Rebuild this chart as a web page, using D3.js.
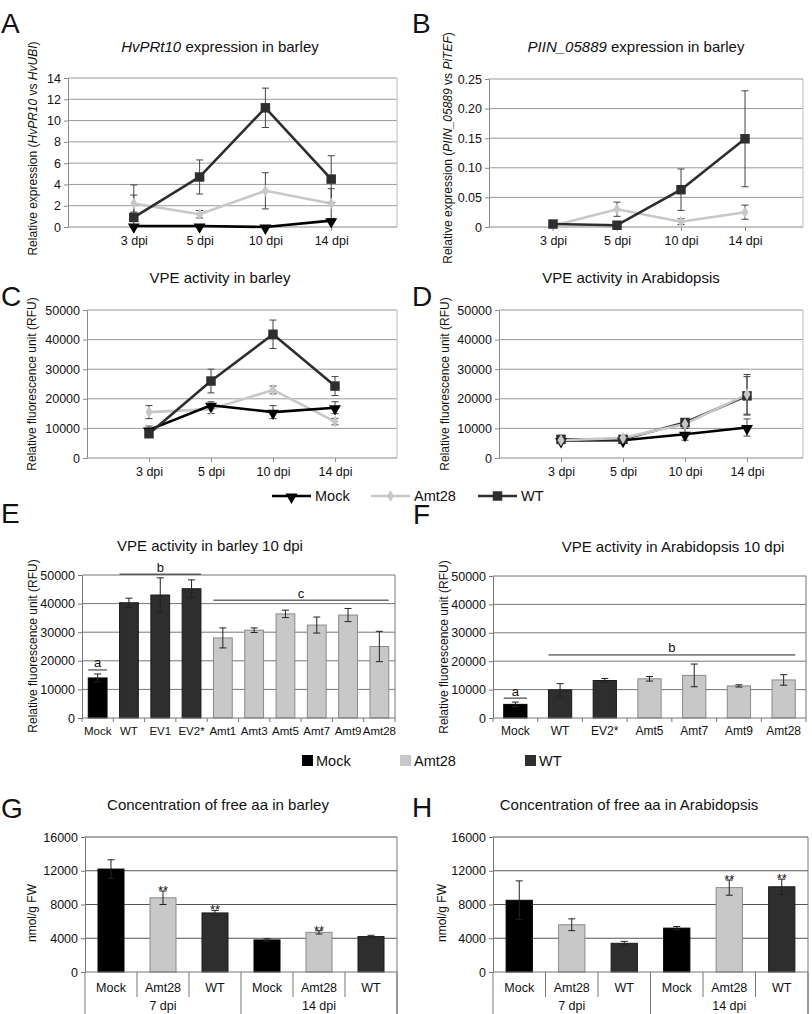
<!DOCTYPE html>
<html><head><meta charset="utf-8">
<script src="https://cdn.jsdelivr.net/npm/d3@7"></script>
<style>body{margin:0;background:#fff} svg{display:block;font-family:"Liberation Sans",Arial,sans-serif}</style>
</head><body><svg id="fig" width="812" height="1014"></svg>
<script>
// ---------- DATA ----------
const dpiLabels = ["3 dpi", "5 dpi", "10 dpi", "14 dpi"];
const seriesNames = ["Mock", "Amt28", "WT"];

// Panel A: HvPRt10 expression
const aTicks = [0, 2, 4, 6, 8, 10, 12, 14];
const aMock = [0.1, 0.1, 0.0, 0.6], aMockErr = [0.1, 0.1, 0.05, 0.15];
const aAmt28 = [2.2, 1.2, 3.4, 2.2], aAmt28Err = [0.8, 0.35, 1.7, 1.4];
const aWT = [0.9, 4.7, 11.2, 4.5], aWTErr = [3.05, 1.6, 1.85, 2.2];

// Panel B: PIIN_05889 expression
const bTicks = [0, 0.05, 0.10, 0.15, 0.20, 0.25];
const bAmt28 = [0.002, 0.030, 0.009, 0.025], bAmt28Err = [0.001, 0.012, 0.005, 0.012];
const bWT = [0.005, 0.003, 0.063, 0.149], bWTErr = [0.002, 0.002, 0.035, 0.081];

// Panel C: VPE activity barley
const rfuTicks = [0, 10000, 20000, 30000, 40000, 50000];
const cMock = [9500, 17800, 15500, 17000], cMockErr = [1300, 1200, 2200, 2000];
const cAmt28 = [15500, 16500, 23000, 12300], cAmt28Err = [2200, 1500, 1300, 1100];
const cWT = [8200, 26000, 41800, 24300], cWTErr = [1200, 4000, 4800, 3200];

// Panel D: VPE activity Arabidopsis
const dMock = [5900, 6000, 8000, 10300], dMockErr = [500, 500, 2000, 2900];
const dAmt28 = [6000, 6800, 11500, 21500], dAmt28Err = [400, 500, 1000, 6700];
const dWT = [6300, 6300, 12000, 21000], dWTErr = [500, 400, 1200, 6500];

// Panel E: VPE activity barley 10 dpi
const eCats = ["Mock", "WT", "EV1", "EV2*", "Amt1", "Amt3", "Amt5", "Amt7", "Amt9", "Amt28"];
const eGroup = [0, 2, 2, 2, 1, 1, 1, 1, 1, 1];
const eVals = [14000, 40300, 43000, 45200, 28000, 30700, 36400, 32500, 36000, 25000];
const eErrs = [1400, 1600, 6000, 3100, 3500, 800, 1300, 2800, 2300, 5300];
const eSig = [{t: "a", i0: 0, i1: 0, v: 16800}, {t: "b", i0: 1, i1: 3, v: 50300}, {t: "c", i0: 4, i1: 9, v: 41200}];

// Panel F: VPE activity Arabidopsis 10 dpi
const fCats = ["Mock", "WT", "EV2*", "Amt5", "Amt7", "Amt9", "Amt28"];
const fGroup = [0, 2, 2, 1, 1, 1, 1];
const fVals = [4800, 9900, 13200, 13800, 15000, 11300, 13400];
const fErrs = [800, 2200, 700, 800, 4000, 400, 1850];
const fSig = [{t: "a", i0: 0, i1: 0, v: 7000}, {t: "b", i0: 1, i1: 6, v: 22200}];

// Panels G/H: free amino acids
const aaTicks = [0, 4000, 8000, 12000, 16000];
const aaCats = ["Mock", "Amt28", "WT", "Mock", "Amt28", "WT"];
const aaGroupLabels = ["7 dpi", "14 dpi"];
const aaGroup = [0, 1, 2, 0, 1, 2];
const gVals = [12200, 8800, 7000, 3800, 4700, 4200];
const gErrs = [1100, 800, 300, 150, 200, 150];
const gStars = [false, true, true, false, true, false];
const hVals = [8500, 5600, 3400, 5200, 10000, 10100];
const hErrs = [2300, 700, 230, 200, 900, 900];
const hStars = [false, false, false, false, true, true];

// ---------- STYLE ----------
const colMock = "#000000", colAmt = "#c8c8c8", colWT = "#2e2e2e";
const barFill = [colMock, colAmt, colWT];
const barStroke = ["#000", "#8a8a8a", "#1a1a1a"];
const txt = "#111";
const svg = d3.select("#fig");

function letter(s, x, y) {
  svg.append("text").attr("x", x).attr("y", y).attr("font-size", 28).attr("fill", txt).text(s);
}
function richText(parts, x, y, size, anchor, rotate) {
  const t = svg.append("text").attr("font-size", size).attr("fill", txt).attr("text-anchor", anchor || "middle");
  if (rotate) t.attr("transform", `translate(${x},${y}) rotate(-90)`);
  else t.attr("x", x).attr("y", y);
  parts.forEach(p => t.append("tspan").attr("font-style", p[1] ? "italic" : "normal").text(p[0]));
  return t;
}
function styleAxis(g, color, fs) {
  g.selectAll("path.domain").attr("stroke", color);
  g.selectAll(".tick line").attr("stroke", color);
  g.selectAll(".tick text").attr("fill", txt).attr("font-size", fs)
    .attr("font-family", '"Liberation Sans",Arial,sans-serif');
}

function linePanel(cfg) {
  const g = svg.append("g");
  const x = d3.scaleLinear().domain([0, 5]).range([cfg.x0, cfg.xEnd]);
  const y = d3.scaleLinear().domain([0, cfg.yMax]).range([cfg.yBot, cfg.yTop]);
  cfg.ticks.slice(1).forEach(t => g.append("line").attr("x1", cfg.x0).attr("x2", cfg.x1)
    .attr("y1", y(t)).attr("y2", y(t)).attr("stroke", "#9a9a9a").attr("stroke-width", 1));
  g.append("line").attr("x1", cfg.x1).attr("x2", cfg.x1).attr("y1", cfg.yTop).attr("y2", cfg.yBot)
    .attr("stroke", "#bdbdbd");
  const ya = g.append("g").attr("transform", `translate(${cfg.x0},0)`)
    .call(d3.axisLeft(y).tickValues(cfg.ticks).tickFormat(cfg.fmt).tickSize(4).tickSizeOuter(0).tickPadding(3));
  styleAxis(ya, "#8a8a8a", 12.5);
  const xa = g.append("g").attr("transform", `translate(0,${cfg.yBot})`)
    .call(d3.axisBottom(x).tickValues([1, 2, 3, 4]).tickFormat(d => dpiLabels[d - 1]).tickSize(4).tickPadding(5));
  xa.select("path.domain").remove();
  styleAxis(xa, "#8a8a8a", 12.5);
  g.append("line").attr("x1", cfg.x0).attr("x2", cfg.x1).attr("y1", cfg.yBot).attr("y2", cfg.yBot).attr("stroke", "#8a8a8a");

  const line = d3.line().x((d, i) => x(i + 1)).y(d => y(d));
  cfg.series.forEach(s => {
    g.append("path").attr("d", line(s.vals)).attr("fill", "none").attr("stroke", s.color)
      .attr("stroke-width", 2.6).attr("stroke-linejoin", "round");
  });
  cfg.series.forEach(s => {
    s.vals.forEach((v, i) => {
      const cx = x(i + 1), hi = y(v + s.errs[i]), lo = y(Math.max(0, v - s.errs[i]));
      g.append("line").attr("x1", cx).attr("x2", cx).attr("y1", hi).attr("y2", lo).attr("stroke", "#444");
      [hi, lo].forEach(yy => g.append("line").attr("x1", cx - 3.5).attr("x2", cx + 3.5)
        .attr("y1", yy).attr("y2", yy).attr("stroke", "#444"));
    });
  });
  cfg.series.forEach(s => {
    s.vals.forEach((v, i) => drawMarker(g, s.marker, x(i + 1), y(v), s.color));
  });
  richText(cfg.title, cfg.titleX, cfg.titleY, 15);
  richText(cfg.ylab, cfg.ylabX, (cfg.yTop + cfg.yBot) / 2 + (cfg.ylabDy || 0), 12, "middle", true);
}

function drawMarker(g, m, cx, cy, color) {
  if (m === "tri") {
    g.append("path").attr("d", d3.symbol(d3.symbolTriangle, 62)()).attr("fill", color)
      .attr("transform", `translate(${cx},${cy + 1}) rotate(180)`);
  } else if (m === "sq") {
    g.append("path").attr("d", d3.symbol(d3.symbolSquare, 90)()).attr("fill", color)
      .attr("transform", `translate(${cx},${cy})`);
  } else {
    g.append("path").attr("d", d3.symbol(d3.symbolDiamond, 42)()).attr("fill", color)
      .attr("transform", `translate(${cx},${cy})`);
  }
}

function barPanel(cfg) {
  const g = svg.append("g");
  const n = cfg.cats.length;
  const x = d3.scaleBand().domain(d3.range(n)).range([cfg.x0, cfg.x1]).padding(0);
  const bw = x.bandwidth() * cfg.frac;
  const bx = i => x(i) + (x.bandwidth() - bw) / 2;
  const y = d3.scaleLinear().domain([0, cfg.yMax]).range([cfg.yBot, cfg.yTop]);
  cfg.ticks.slice(1).forEach(t => g.append("line").attr("x1", cfg.x0).attr("x2", cfg.x1)
    .attr("y1", y(t)).attr("y2", y(t)).attr("stroke", cfg.grid));
  g.append("line").attr("x1", cfg.x1).attr("x2", cfg.x1).attr("y1", cfg.yTop).attr("y2", cfg.rightBot || cfg.yBot)
    .attr("stroke", cfg.axisCol);
  cfg.vals.forEach((v, i) => {
    const gi = cfg.group[i];
    g.append("rect").attr("x", bx(i)).attr("width", bw).attr("y", y(v)).attr("height", y(0) - y(v))
      .attr("fill", barFill[gi]).attr("stroke", barStroke[gi]).attr("stroke-width", 1);
  });
  cfg.vals.forEach((v, i) => {
    const cx = bx(i) + bw / 2, hi = y(v + cfg.errs[i]), lo = y(v - cfg.errs[i]);
    g.append("line").attr("x1", cx).attr("x2", cx).attr("y1", hi).attr("y2", lo).attr("stroke", "#222");
    [hi, lo].forEach(yy => g.append("line").attr("x1", cx - 3.5).attr("x2", cx + 3.5)
      .attr("y1", yy).attr("y2", yy).attr("stroke", "#222"));
    if (cfg.stars && cfg.stars[i]) {
      g.append("text").attr("x", cx).attr("y", hi + 4).attr("text-anchor", "middle")
        .attr("font-size", 13).attr("fill", txt).text("**");
    }
  });
  const ya = g.append("g").attr("transform", `translate(${cfg.x0},0)`)
    .call(d3.axisLeft(y).tickValues(cfg.ticks).tickSize(4).tickSizeOuter(0).tickPadding(3).tickFormat(d3.format("d")));
  styleAxis(ya, cfg.axisCol, 12.5);
  g.append("line").attr("x1", cfg.x0).attr("x2", cfg.x1).attr("y1", cfg.yBot).attr("y2", cfg.yBot).attr("stroke", cfg.axisCol);
  for (let k = 0; k <= n; k++) {
    const xx = k === n ? cfg.x1 : x(k);
    let len = cfg.sepLen;
    if (cfg.groupSize && k % cfg.groupSize === 0) len = cfg.groupSepLen;
    g.append("line").attr("x1", xx).attr("x2", xx).attr("y1", cfg.yBot).attr("y2", cfg.yBot + len)
      .attr("stroke", cfg.axisCol);
  }
  cfg.cats.forEach((c, i) => g.append("text").attr("x", x(i) + x.bandwidth() / 2).attr("y", cfg.catY)
    .attr("text-anchor", "middle").attr("font-size", cfg.catFs).attr("fill", txt).text(c));
  if (cfg.groupLabels) {
    cfg.groupLabels.forEach((gl, j) => {
      const xa = x(j * cfg.groupSize), xb = (j + 1) * cfg.groupSize >= n ? cfg.x1 : x((j + 1) * cfg.groupSize);
      g.append("text").attr("x", (xa + xb) / 2).attr("y", cfg.groupY).attr("text-anchor", "middle")
        .attr("font-size", 12.5).attr("fill", txt).text(gl);
    });
  }
  if (cfg.sig) {
    cfg.sig.forEach(s => {
      const xa = bx(s.i0), xb = bx(s.i1) + bw, yy = y(s.v);
      g.append("line").attr("x1", xa).attr("x2", xb).attr("y1", yy).attr("y2", yy).attr("stroke", "#222");
      g.append("text").attr("x", (xa + xb) / 2).attr("y", yy - 2.5).attr("text-anchor", "middle")
        .attr("font-size", 13).attr("fill", txt).text(s.t);
    });
  }
  richText(cfg.title, cfg.titleX, cfg.titleY, 15);
  richText(cfg.ylab, cfg.ylabX, cfg.ylabY, 12, "middle", true);
}

// ---------- PANELS ----------
const rfuLab = [["Relative fluorescence unit (RFU)", false]];

linePanel({
  x0: 68, x1: 397, xEnd: 397, yTop: 78, yBot: 227, yMax: 14, ticks: aTicks, fmt: d3.format("d"),
  series: [
    {vals: aAmt28, errs: aAmt28Err, color: colAmt, marker: "dia"},
    {vals: aMock, errs: aMockErr, color: colMock, marker: "tri"},
    {vals: aWT, errs: aWTErr, color: colWT, marker: "sq"}],
  title: [["HvPRt10", true], [" expression in barley", false]], titleX: 220, titleY: 52,
  ylab: [["Relative expression (", false], ["HvPR10", true], [" vs ", false], ["HvUBI", true], [")", false]],
  ylabX: 37, ylabDy: -4
});
linePanel({
  x0: 489, x1: 803, xEnd: 809, yTop: 79, yBot: 227, yMax: 0.25, ticks: bTicks,
  fmt: d => d === 0 ? "0" : d3.format(".2f")(d),
  series: [
    {vals: bAmt28, errs: bAmt28Err, color: colAmt, marker: "dia"},
    {vals: bWT, errs: bWTErr, color: colWT, marker: "sq"}],
  title: [["PIIN_05889", true], [" expression in barley", false]], titleX: 636, titleY: 52,
  ylab: [["Relative expression (", false], ["PIIN_05889", true], [" vs ", false], ["PiTEF", true], [")", false]],
  ylabX: 452, ylabDy: -5
});
linePanel({
  x0: 87, x1: 397, xEnd: 397, yTop: 310, yBot: 458, yMax: 50000, ticks: rfuTicks, fmt: d3.format("d"),
  series: [
    {vals: cAmt28, errs: cAmt28Err, color: colAmt, marker: "dia"},
    {vals: cMock, errs: cMockErr, color: colMock, marker: "tri"},
    {vals: cWT, errs: cWTErr, color: colWT, marker: "sq"}],
  title: [["VPE activity in barley", false]], titleX: 220, titleY: 283,
  ylab: rfuLab, ylabX: 36
});
linePanel({
  x0: 499, x1: 803, xEnd: 809, yTop: 310, yBot: 458, yMax: 50000, ticks: rfuTicks, fmt: d3.format("d"),
  series: [
    {vals: dMock, errs: dMockErr, color: colMock, marker: "tri"},
    {vals: dWT, errs: dWTErr, color: colWT, marker: "sq"},
    {vals: dAmt28, errs: dAmt28Err, color: colAmt, marker: "dia"}],
  title: [["VPE activity in Arabidopsis", false]], titleX: 631, titleY: 283,
  ylab: rfuLab, ylabX: 449
});

barPanel({
  x0: 82, x1: 395, yTop: 575, yBot: 718, yMax: 50000, ticks: rfuTicks, frac: 0.6,
  cats: eCats, group: eGroup, vals: eVals, errs: eErrs, sig: eSig,
  grid: "#777", axisCol: "#777", sepLen: 4, catY: 735, catFs: 11.5,
  title: [["VPE activity in barley 10 dpi", false]], titleX: 210, titleY: 551,
  ylab: rfuLab, ylabX: 37, ylabY: 646
});
barPanel({
  x0: 493, x1: 806, yTop: 576, yBot: 718, yMax: 50000, ticks: rfuTicks, frac: 0.52,
  cats: fCats, group: fGroup, vals: fVals, errs: fErrs, sig: fSig,
  grid: "#777", axisCol: "#777", sepLen: 4, catY: 735, catFs: 12,
  title: [["VPE activity in Arabidopsis 10 dpi", false]], titleX: 673, titleY: 552,
  ylab: rfuLab, ylabX: 448, ylabY: 647
});
barPanel({
  x0: 85, x1: 397, yTop: 837, yBot: 972, yMax: 16000, ticks: aaTicks, frac: 0.5,
  cats: aaCats, group: aaGroup, vals: gVals, errs: gErrs, stars: gStars,
  grid: "#555", axisCol: "#777", sepLen: 25, groupSize: 3, groupSepLen: 45, rightBot: 1014,
  catY: 992, catFs: 12.5, groupLabels: aaGroupLabels, groupY: 1010,
  title: [["Concentration of free aa in barley", false]], titleX: 218, titleY: 810,
  ylab: [["nmol/g FW", false]], ylabX: 36, ylabY: 913
});
barPanel({
  x0: 493, x1: 808, yTop: 837, yBot: 972, yMax: 16000, ticks: aaTicks, frac: 0.5,
  cats: aaCats, group: aaGroup, vals: hVals, errs: hErrs, stars: hStars,
  grid: "#555", axisCol: "#777", sepLen: 25, groupSize: 3, groupSepLen: 45, rightBot: 1014,
  catY: 992, catFs: 12.5, groupLabels: aaGroupLabels, groupY: 1010,
  title: [["Concentration of free aa in Arabidopsis", false]], titleX: 629, titleY: 810,
  ylab: [["nmol/g FW", false]], ylabX: 446, ylabY: 913
});

// ---------- LEGENDS ----------
const lineLeg = [
  {name: seriesNames[0], x: 272, color: colMock, marker: "tri"},
  {name: seriesNames[1], x: 371, color: colAmt, marker: "dia"},
  {name: seriesNames[2], x: 478, color: colWT, marker: "sq"}];
lineLeg.forEach(l => {
  svg.append("line").attr("x1", l.x).attr("x2", l.x + 39).attr("y1", 496).attr("y2", 496)
    .attr("stroke", l.color).attr("stroke-width", 2.6);
  drawMarker(svg, l.marker, l.x + 19.5, 496, l.color);
  svg.append("text").attr("x", l.x + 43).attr("y", 501).attr("font-size", 14.5).attr("fill", txt).text(l.name);
});
const barLeg = [{name: seriesNames[0], x: 302, gi: 0}, {name: seriesNames[1], x: 400, gi: 1}, {name: seriesNames[2], x: 525, gi: 2}];
barLeg.forEach(l => {
  svg.append("rect").attr("x", l.x).attr("y", 755).attr("width", 11).attr("height", 11).attr("fill", barFill[l.gi]);
  svg.append("text").attr("x", l.x + 14).attr("y", 766).attr("font-size", 14.5).attr("fill", txt).text(l.name);
});

// ---------- PANEL LETTERS ----------
letter("A", 1, 33); letter("B", 412, 33);
letter("C", 1, 306); letter("D", 412, 306);
letter("E", 1, 523); letter("F", 413, 524);
letter("G", 1, 818); letter("H", 412, 817);
</script></body></html>
